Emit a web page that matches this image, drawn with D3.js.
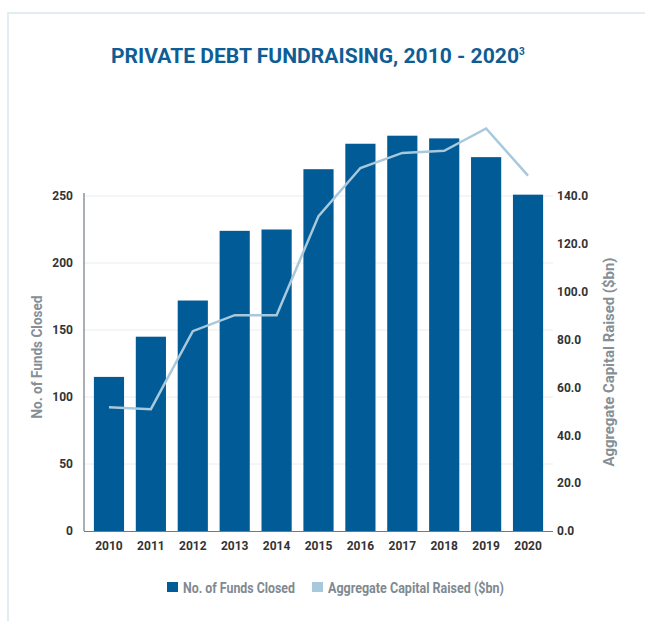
<!DOCTYPE html>
<html lang="en">
<head>
    <meta charset="UTF-8">
    <title>Private Debt Fundraising</title>
    <script src="https://cdn.jsdelivr.net/npm/d3@7/dist/d3.min.js"></script>
</head>
<style>
    body { margin: 0; background: #fff; }
    svg { display: block; }
</style>
<body>
</body>
</html>
<script>

    var years = ["2010", "2011", "2012", "2013", "2014", "2015", "2016", "2017", "2018", "2019", "2020"];
    var fundsClosed = [115, 145, 172, 224, 225, 270, 289, 295, 293, 279, 251];      // left axis, bars
    var capitalRaised = [51.7, 50.9, 83.5, 90.2, 90.2, 131.6, 151.7, 158.0, 158.9, 168.2, 148.5]; // right axis, line
    var leftTicks = [0, 50, 100, 150, 200, 250];
    var rightTicks = [0, 20, 40, 60, 80, 100, 120, 140];

    var w = 645;
    var h = 621;
    var barColor = "#005b96";
    var lineColor = "#a8c8dc";
    var condFont = "Roboto, sans-serif";   // no condensed face installed, squeeze with textLength

    var svg = d3.select("body")
            .append("svg")
            .attr("width", w)
            .attr("height", h);

    // light frame round the panel
    svg.append("path")
            .attr("d", "M8," + h + "V13H" + w)
            .attr("fill", "none")
            .attr("stroke", "#e2edf0")
            .attr("stroke-width", 2);

    // title
    var title = svg.append("text")
            .attr("x", 111)
            .attr("y", 63)
            .attr("font-family", "Roboto, sans-serif")
            .attr("font-weight", "bold")
            .attr("font-size", "20px")
            .attr("fill", "#0e5e95");
    title.append("tspan")
            .attr("textLength", 408)
            .attr("lengthAdjust", "spacingAndGlyphs")
            .text("PRIVATE DEBT FUNDRAISING, 2010 - 2020");
    title.append("tspan").text("3").attr("font-size", "10px").attr("dy", -8);

    var x = d3.scaleBand()
            .domain(years)
            .range([84, 553])
            .paddingInner(0.28)
            .paddingOuter(0.236);

    var yLeft = d3.scaleLinear().domain([0, 250]).range([531, 196]);
    var yRight = d3.scaleLinear().domain([0, 140]).range([531, 196]);

    // gridlines
    svg.append("g")
            .selectAll("line")
            .data(leftTicks.slice(1))
            .enter()
            .append("line")
            .attr("x1", 84)
            .attr("x2", 553)
            .attr("y1", function (d) { return yLeft(d); })
            .attr("y2", function (d) { return yLeft(d); })
            .attr("stroke", "#ececec")
            .attr("stroke-width", 1);

    // bars
    svg.append("g")
            .selectAll("rect")
            .data(fundsClosed)
            .enter()
            .append("rect")
            .attr("x", function (d, i) { return x(years[i]); })
            .attr("y", function (d) { return yLeft(d); })
            .attr("width", x.bandwidth())
            .attr("height", function (d) { return yLeft(0) - yLeft(d); })
            .attr("fill", barColor);

    // capital raised line
    var line = d3.line()
            .x(function (d, i) { return x(years[i]) + x.bandwidth() / 2; })
            .y(function (d) { return yRight(d); });

    svg.append("path")
            .datum(capitalRaised)
            .attr("d", line)
            .attr("fill", "none")
            .attr("stroke", lineColor)
            .attr("stroke-width", 2.5);

    // left axis
    var leftAxis = svg.append("g")
            .attr("transform", "translate(84,0)")
            .call(d3.axisLeft(yLeft).tickValues(leftTicks).tickSize(0).tickPadding(11));
    leftAxis.select(".domain").remove();
    leftAxis.append("line")
            .attr("x1", 0).attr("x2", 0)
            .attr("y1", 193).attr("y2", 531)
            .attr("stroke", "#6f7a82")
            .attr("stroke-width", 1.2);

    // right axis
    var rightAxis = svg.append("g")
            .attr("transform", "translate(553,0)")
            .call(d3.axisRight(yRight).tickValues(rightTicks).tickSize(0).tickPadding(4)
                    .tickFormat(d3.format(".1f")));
    rightAxis.select(".domain").remove();

    // bottom axis
    var bottomAxis = svg.append("g")
            .attr("transform", "translate(0,531)")
            .call(d3.axisBottom(x).tickSize(0).tickPadding(10));
    bottomAxis.select(".domain").remove();
    bottomAxis.append("line")
            .attr("x1", 84).attr("x2", 553)
            .attr("y1", 0.5).attr("y2", 0.5)
            .attr("stroke", "#6f7a82")
            .attr("stroke-width", 1.2);

    svg.selectAll(".tick text")
            .attr("font-family", "Roboto, sans-serif")
            .attr("font-weight", "bold")
            .attr("font-size", "12px")
            .attr("fill", "#333");

    // axis titles
    svg.append("text")
            .attr("transform", "translate(42,357) rotate(-90)")
            .attr("text-anchor", "middle")
            .attr("font-family", condFont)
            .attr("font-weight", "bold")
            .attr("font-size", "15px")
            .attr("fill", "#858f95")
            .attr("textLength", 123)
            .attr("lengthAdjust", "spacingAndGlyphs")
            .text("No. of Funds Closed");

    svg.append("text")
            .attr("transform", "translate(614,362) rotate(-90)")
            .attr("text-anchor", "middle")
            .attr("font-family", condFont)
            .attr("font-weight", "bold")
            .attr("font-size", "15px")
            .attr("fill", "#858f95")
            .attr("textLength", 209)
            .attr("lengthAdjust", "spacingAndGlyphs")
            .text("Aggregate Capital Raised ($bn)");

    // legend
    var legendItems = [
        {label: "No. of Funds Closed", color: barColor, x: 167, len: 112},
        {label: "Aggregate Capital Raised ($bn)", color: lineColor, x: 312, len: 176}
    ];
    var legend = svg.append("g")
            .selectAll("g")
            .data(legendItems)
            .enter()
            .append("g")
            .attr("transform", function (d) { return "translate(" + d.x + ",582)"; });
    legend.append("rect")
            .attr("width", 11)
            .attr("height", 10)
            .attr("fill", function (d) { return d.color; });
    legend.append("text")
            .attr("x", 16)
            .attr("y", 10.5)
            .attr("font-family", condFont)
            .attr("font-weight", "bold")
            .attr("font-size", "14px")
            .attr("fill", "#7f8a90")
            .attr("textLength", function (d) { return d.len; })
            .attr("lengthAdjust", "spacingAndGlyphs")
            .text(function (d) { return d.label; });
</script>
